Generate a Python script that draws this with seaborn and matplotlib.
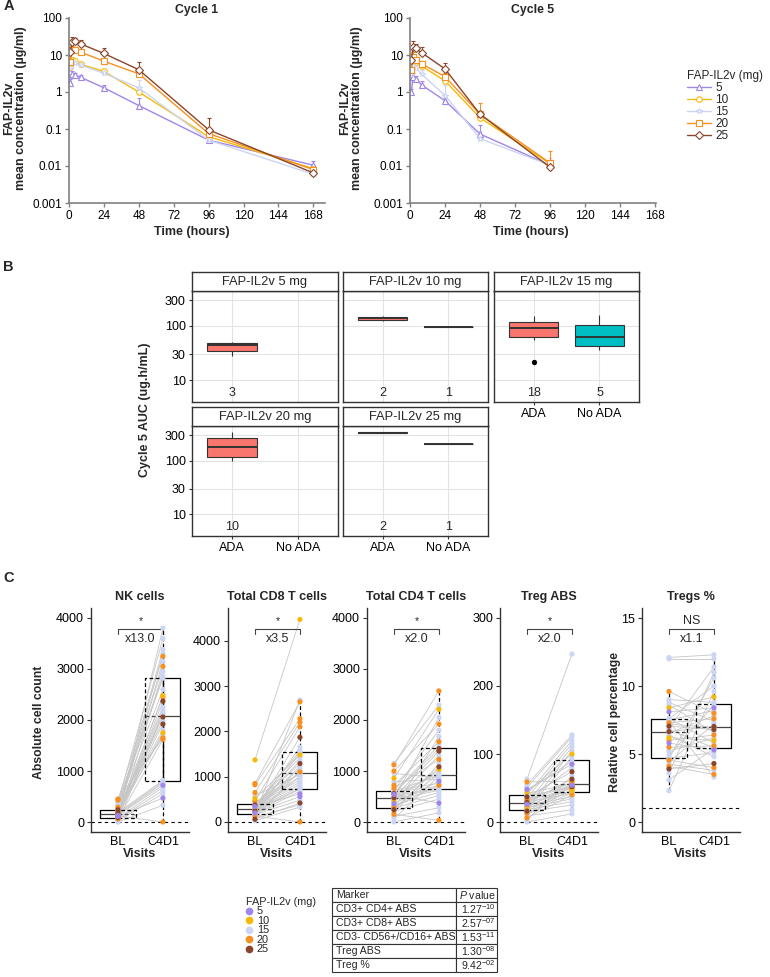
import numpy as np
import pandas as pd
import matplotlib
matplotlib.use("Agg")
import matplotlib.pyplot as plt
from matplotlib import cbook
from matplotlib.lines import Line2D
from matplotlib.ticker import NullLocator
import seaborn as sns

# ---------------- data ----------------
doses = [5, 10, 15, 20, 25]
dose_colors = ["#9f86ea", "#f6b90a", "#ccd5f4", "#f7901e", "#8b452a"]
dose_markers = ["^", "o", "*", "s", "D"]

# panel A: mean concentration (ug/ml) and top of the error bar; one row per dose
c1_time = [1, 2, 4, 8, 24, 48, 96, 168]
c1_mean = [
    [1.8, 3.1, 2.9, 2.5, 1.3, 0.43, 0.05, 0.0105],
    [4.6, 7.5, 6.8, 5.6, 3.6, 1.0, 0.062, 0.0085],
    [4.5, 6.5, 6.2, 5.3, 3.2, 1.3, 0.05, 0.006],
    [6.5, 14, 14, 12, 6.8, 3.1, 0.075, 0.008],
    [12, 22, 24, 20, 11, 4.0, 0.095, 0.0065],
]
c1_upper = [
    [2.3, 3.6, 3.3, 2.8, 1.5, 0.7, 0.055, 0.014],
    [5.5, 9, 8, 6.5, 4.2, 1.2, 0.07, 0.01],
    [6, 8, 7.5, 6.5, 4, 2.1, 0.055, 0.007],
    [8, 17, 16, 14, 8.0, 3.6, 0.09, 0.009],
    [16, 30, 28, 25, 15, 6.5, 0.2, 0.0075],
]
c5_time = [1, 2, 4, 8, 24, 48, 96]
c5_mean = [
    [1.0, 2.6, 2.3, 1.55, 0.58, 0.073, 0.0105],
    [3.5, 6.5, 6.3, 5.0, 2.0, 0.2, 0.0115],
    [3.0, 5.0, 4.5, 3.0, 0.8, 0.055, 0.0105],
    [4.0, 9.0, 7.2, 5.8, 2.6, 0.25, 0.012],
    [7.5, 16, 15, 11.5, 4.2, 0.25, 0.0092],
]
c5_upper = [
    [1.2, 3.2, 2.7, 2.0, 0.7, 0.13, 0.012],
    [4.2, 8, 7, 6, 2.5, 0.25, 0.014],
    [3.8, 6, 5.5, 4, 1.5, 0.09, 0.016],
    [5, 12, 9, 7, 3.2, 0.5, 0.025],
    [10, 24, 20, 16, 6, 0.3, 0.011],
]

# panel B: cycle 5 AUC (ug.h/mL) by ADA status
b_titles = ["FAP-IL2v 5 mg", "FAP-IL2v 10 mg", "FAP-IL2v 15 mg", "FAP-IL2v 20 mg", "FAP-IL2v 25 mg"]
b_groups = ["ADA", "No ADA"]
b_fill = ["#f8766d", "#00bfc4"]
b_ada = [
    [27.8, 44, 51.6],
    [125, 153],
    [21.3, 55, 58, 62, 63.5, 65, 75, 85, 91, 95, 100, 108, 115, 118, 125, 135, 145, 153],
    [97.5, 105, 115, 125, 170, 186, 250, 270, 310, 345],
    [322, 345],
]
b_noada = [[], [97], [36, 42.6, 63, 104, 158], [], [206]]

# panel C: per-patient values at BL and C4D1
patient_dose = [20] * 6 + [10] * 2 + [25] * 3 + [5] * 2 + [15] * 23
nk_bl = [430, 450, 120, 60, 205, 290, 150, 95, 175, 240, 86, 110, 130, 0, 5, 20, 35, 50, 70, 78, 82,
         140, 158, 162, 166, 185, 195, 215, 225, 235, 252, 270, 310, 340, 370, 400]
nk_c4 = [3250, 1650, 0, 1620, 2450, 3050, 1750, 2480, 1920, 2060, 2370, 470, 720, 330, 2112, 560, 2950,
         620, 3800, 680, 2150, 760, 3150, 790, 2200, 815, 3300, 1700, 2250, 1800, 3380, 1980, 2600, 2820, 3600, 2856]
cd8_bl = [850, 820, 650, 470, 290, 130, 1370, 520, 60, 245, 375, 200, 340, 30, 90, 110, 150, 165, 175,
          182, 185, 215, 230, 258, 270, 280, 300, 310, 320, 330, 352, 365, 386, 402, 430, 580]
cd8_c4 = [2650, 2280, 2200, 2100, 1105, 0, 4470, 1480, 420, 1870, 1290, 560, 620, 330, 1130, 380, 1540,
          480, 2690, 680, 1020, 730, 1230, 740, 1650, 780, 1350, 830, 1180, 880, 1568, 930, 1420, 980, 1075, 1050]
cd4_bl = [1120, 1000, 720, 660, 300, 150, 860, 415, 475, 240, 560, 360, 540, 0, 60, 110, 180, 210, 260,
          275, 282, 330, 390, 440, 460, 485, 500, 520, 575, 590, 600, 612, 624, 790, 950, 1150]
cd4_c4 = [2570, 1921, 1574, 1226, 721, 33, 2210, 1030, 1390, 1082, 1440, 800, 370, 180, 900, 280, 1140,
          450, 1680, 520, 942, 580, 1300, 620, 2050, 645, 980, 660, 1504, 700, 920, 760, 1800, 840, 870, 2295]
treg_bl = [59, 33, 30.5, 23.5, 13, 6, 44, 20, 28.6, 37, 16, 26, 48, 0, 3, 9, 11, 15, 17.5, 18.2, 19, 21,
           22, 25, 27.4, 29.5, 31.5, 34, 35.5, 38.6, 40.2, 42, 46, 51, 55, 63]
treg_c4 = [60, 58, 55.3, 50, 48, 40, 100, 46, 63, 74, 52, 54, 85, 12, 68, 18, 43.5, 25, 95.5, 30, 105,
           34, 53, 37, 110, 42, 80, 44.2, 115, 51, 120, 56.7, 89.5, 125, 128, 247]
tpct_bl = [9.6, 4.55, 4.1, 6.0, 7.3, 5.5, 8.4, 6.2, 6.65, 3.9, 7.05, 5.8, 8.1, 2.3, 3.1, 3.6, 4.25, 4.4,
           4.68, 4.70, 4.9, 5.2, 6.4, 6.55, 6.8, 6.9, 7.2, 7.4, 7.5, 7.6, 7.62, 8.6, 8.8, 9.0, 12.0, 12.1]
tpct_c4 = [8.0, 4.0, 3.5, 6.4, 7.6, 5.6, 9.2, 6.0, 7.03, 4.3, 6.8, 5.3, 8.4, 9.6, 5.4, 11.0, 3.8, 7.2,
           10.6, 5.1, 8.6, 6.2, 4.8, 7.8, 5.45, 11.4, 6.95, 3.3, 8.2, 10.0, 5.8, 6.6, 7.4, 8.8, 12.0, 12.3]
c_titles = ["NK cells", "Total CD8 T cells", "Total CD4 T cells", "Treg ABS", "Tregs %"]
c_fold = ["x13.0", "x3.5", "x2.0", "x2.0", "x1.1"]
c_sig = ["*", "*", "*", "*", "NS"]
c_ref = [0, 0, 0, 0, 1]
c_yticks = [[0, 1000, 2000, 3000, 4000], [0, 1000, 2000, 3000, 4000], [0, 1000, 2000, 3000, 4000],
            [0, 100, 200, 300], [0, 5, 10, 15]]
c_ylim = [(-196, 4196), (-221, 4722), (-196, 4196), (-14.7, 314.7), (-0.735, 15.74)]
visit_labels = ["BL", "C4D1"]

tab_markers = ["CD3+ CD4+ ABS", "CD3+ CD8+ ABS", "CD3- CD56+/CD16+ ABS", "Treg ABS", "Treg %"]
tab_pvals = [r"1.27$^{-10}$", r"2.57$^{-07}$", r"1.53$^{-11}$", r"1.30$^{-08}$", r"9.42$^{-02}$"]

# ---------------- style ----------------
sns.set_theme(style="ticks")
plt.rcParams["font.family"] = ["Liberation Sans", "DejaVu Sans"]
plt.rcParams["font.size"] = 8.5
plt.rcParams["mathtext.fontset"] = "custom"
plt.rcParams["mathtext.rm"] = "Liberation Sans"
plt.rcParams["mathtext.it"] = "Liberation Sans:italic"
plt.rcParams["mathtext.bf"] = "Liberation Sans:bold"

W, H = 770, 977
fig = plt.figure(figsize=(W / 100, H / 100), dpi=100)
pal = dict(zip(doses, dose_colors))
mk = dict(zip(doses, dose_markers))


def px_box(l, t, r, b):
    return [l / W, 1 - b / H, (r - l) / W, (b - t) / H]


def fig_text(x, y, s, **kw):
    fig.text(x / W, 1 - y / H, s, **kw)


# ---------------- panel A ----------------
def pk_panel(box, times, means, uppers, title, xmax):
    ax = fig.add_axes(px_box(*box))
    ax.set_yscale("log")
    df = pd.DataFrame([(d, t, v) for d, row in zip(doses, means) for t, v in zip(times, row)],
                      columns=["dose", "time", "conc"])
    sns.lineplot(data=df, x="time", y="conc", hue="dose", style="dose", palette=pal, markers=mk,
                 dashes=False, estimator=None, linewidth=1.0, markersize=4, legend=False, ax=ax, zorder=2)
    for ln in ax.lines:
        ln.set_markerfacecolor("white")
        ln.set_markeredgecolor(ln.get_color())
        ln.set_markeredgewidth(0.8)
    for c, row, up in zip(dose_colors, means, uppers):
        hi = np.array(up) - np.array(row)
        ax.errorbar(times, row, yerr=[np.zeros(len(row)), hi], fmt="none", ecolor=c,
                    elinewidth=0.8, capsize=1.5, capthick=0.8, zorder=1)
    ax.set_xlim(0, xmax)
    ax.set_ylim(0.001, 100)
    ax.set_xticks(range(0, 169, 24))
    ax.set_yticks([0.001, 0.01, 0.1, 1, 10, 100])
    ax.set_yticklabels(["0.001", "0.01", "0.1", "1", "10", "100"])
    ax.yaxis.set_minor_locator(NullLocator())
    ax.set_xlabel("")
    ax.set_ylabel("")
    for s in ["top", "right"]:
        ax.spines[s].set_visible(False)
    for s in ["left", "bottom"]:
        ax.spines[s].set_color("#808080")
        ax.spines[s].set_linewidth(1.2)
    ax.tick_params(colors="#808080", labelcolor="black", length=3, width=1, labelsize=8.5, pad=2)
    ax.set_title(title, fontweight="bold", fontsize=8.8, pad=3.5)
    return ax


pk_panel((69, 18, 325, 203), c1_time, c1_mean, c1_upper, "Cycle 1", 176)
pk_panel((410, 18, 656, 203), c5_time, c5_mean, c5_upper, "Cycle 5", 168.5)
for x in (15, 351):
    fig_text(x, 108, "FAP-IL2v\nmean concentration (µg/ml)", rotation=90, fontweight="bold",
             fontsize=9, ha="center", va="center", multialignment="center", linespacing=1.0)
fig_text(192, 232, "Time (hours)", fontweight="bold", fontsize=9, ha="center", va="center")
fig_text(531, 232, "Time (hours)", fontweight="bold", fontsize=9, ha="center", va="center")

a_handles = [Line2D([], [], color=c, marker=m, mfc="white", mec=c, mew=0.8, lw=1, ms=4)
             for c, m in zip(dose_colors, dose_markers)]
lg = fig.legend(a_handles, [str(d) for d in doses], title="FAP-IL2v (mg)", loc="upper left",
                bbox_to_anchor=(687 / W, 1 - 70 / H), frameon=False, fontsize=8.5, title_fontsize=8.5,
                handlelength=2.0, handletextpad=0.4, labelspacing=0.0, borderpad=0, borderaxespad=0)
lg._legend_box.align = "left"

# ---------------- panel B ----------------
b_cols = [(192, 338), (343, 488), (494, 639)]
b_rows = [(272, 291, 402), (407, 426, 536)]
for i, (title, ada, noada) in enumerate(zip(b_titles, b_ada, b_noada)):
    row, col = divmod(i, 3)
    l, r = b_cols[col]
    ts, tp, bp = b_rows[row]
    ax = fig.add_axes(px_box(l, tp, r, bp))
    df = pd.DataFrame({"grp": ["ADA"] * len(ada) + ["No ADA"] * len(noada), "auc": ada + noada})
    sns.boxplot(data=df, x="grp", y="auc", hue="grp", order=b_groups, hue_order=b_groups,
                palette=dict(zip(b_groups, b_fill)), saturation=1, width=0.75, log_scale=True,
                linecolor="#333333", linewidth=0.8, whis=1.5, showcaps=False,
                flierprops=dict(marker="o", markersize=2.8, markerfacecolor="black", markeredgecolor="black"),
                medianprops=dict(linewidth=1.4), legend=False, ax=ax)
    for j, vals in enumerate([ada, noada]):
        if vals:
            ax.text(j, 5.8, str(len(vals)), ha="center", va="center", fontsize=9)
    ax.set_xlim(-0.6, 1.6)
    ax.set_ylim(3.92, 444)
    ax.set_yticks([10, 30, 100, 300])
    ax.set_yticklabels(["10", "30", "100", "300"])
    ax.yaxis.set_minor_locator(NullLocator())
    ax.set_xlabel("")
    ax.set_ylabel("")
    ax.grid(True, color="#e3e3e3", linewidth=0.8)
    ax.set_axisbelow(True)
    for s in ax.spines.values():
        s.set_color("#333333")
        s.set_linewidth(1.0)
    ax.tick_params(colors="#333333", labelcolor="black", length=2.5, width=0.8, labelsize=9, pad=2)
    if col != 0:
        ax.tick_params(axis="y", labelleft=False, length=0)
    if not (row == 1 or col == 2):
        ax.tick_params(axis="x", labelbottom=False, length=0)
    sax = fig.add_axes(px_box(l, ts, r, tp))
    sax.set_xticks([])
    sax.set_yticks([])
    sax.set_facecolor("white")
    for s in sax.spines.values():
        s.set_color("#333333")
        s.set_linewidth(1.0)
    sax.text(0.5, 0.48, title, ha="center", va="center", fontsize=9.3, transform=sax.transAxes)
fig_text(145, 410, "Cycle 5 AUC (ug.h/mL)", rotation=90, fontweight="bold", fontsize=9,
         ha="center", va="center")

# ---------------- panel C ----------------
c_bl = [nk_bl, cd8_bl, cd4_bl, treg_bl, tpct_bl]
c_c4 = [nk_c4, cd8_c4, cd4_c4, treg_c4, tpct_c4]
c_left = [91, 228, 367, 500, 642]
bw = 0.78
dash = (0, (3, 2))
n = len(patient_dose)
for k in range(5):
    bl, c4 = c_bl[k], c_c4[k]
    ax = fig.add_axes(px_box(c_left[k], 608, c_left[k] + 98, 832))
    df = pd.DataFrame({"patient": list(range(n)) * 2, "visit": [0] * n + [1] * n,
                       "value": bl + c4, "dose": patient_dose * 2})
    ax.axhline(c_ref[k], color="black", linewidth=0.8, linestyle=(0, (3, 3)), zorder=1)
    sns.lineplot(data=df, x="visit", y="value", units="patient", estimator=None, color="#c6c6c6",
                 linewidth=0.6, legend=False, ax=ax, zorder=2)
    for x, vals, side in [(0, bl, -1), (1, c4, 1)]:
        st = cbook.boxplot_stats(np.asarray(vals, float), whis=1.5)
        for pos, ls in [(x + side * bw / 4, "-"), (x - side * bw / 4, dash)]:
            ax.bxp(st, positions=[pos], widths=[bw / 2], showcaps=False, showfliers=False,
                   manage_ticks=False,
                   boxprops=dict(color="black", linewidth=0.9, linestyle=ls),
                   medianprops=dict(color="#444444", linewidth=0.9, linestyle=ls),
                   whiskerprops=dict(linewidth=0), zorder=3)
        ax.vlines(x, st[0]["whislo"], st[0]["whishi"], colors="black", linewidth=0.9,
                  linestyles=dash, zorder=3)
    pts = pd.concat([df[df["dose"] == 15], df[df["dose"] != 15]])
    sns.scatterplot(data=pts, x="visit", y="value", hue="dose", palette=pal, s=14, linewidth=0,
                    legend=False, ax=ax, zorder=4)
    ax.set_xlim(-0.6, 1.58)
    ax.set_ylim(*c_ylim[k])
    ax.set_yticks(c_yticks[k])
    ax.set_xticks([0, 1])
    ax.set_xticklabels(visit_labels)
    ax.set_ylabel("")
    ax.set_xlabel("Visits", fontweight="bold", fontsize=9, labelpad=0)
    for s in ["top", "right"]:
        ax.spines[s].set_visible(False)
    for s in ["left", "bottom"]:
        ax.spines[s].set_color("#333333")
        ax.spines[s].set_linewidth(1.0)
    ax.tick_params(colors="#333333", labelcolor="black", length=3, width=0.8, labelsize=9, pad=2)
    ax.tick_params(axis="x", length=0, pad=3)
    ax.set_title(c_titles[k], fontweight="bold", fontsize=9, pad=6)
    tr = ax.get_xaxis_transform()
    ax.plot([0, 0, 1, 1], [0.885, 0.905, 0.905, 0.885], transform=tr, color="#444444",
            linewidth=0.8, clip_on=False)
    ax.text(0.5, 0.942, c_sig[k], transform=tr, ha="center", va="center",
            fontsize=9 if c_sig[k] == "NS" else 7.5)
    ax.text(0.5, 0.862, c_fold[k], transform=tr, ha="center", va="center", fontsize=9)
fig_text(39, 722, "Absolute cell count", rotation=90, fontweight="bold", fontsize=8.8, ha="center", va="center")
fig_text(615, 722, "Relative cell percentage", rotation=90, fontweight="bold", fontsize=8.8,
         ha="center", va="center")

c_handles = [Line2D([], [], ls="none", marker="o", ms=4.5, mfc=c, mec=c) for c in dose_colors]
lg2 = fig.legend(c_handles, [str(d) for d in doses], title="FAP-IL2v (mg)", loc="upper left",
                 bbox_to_anchor=(246 / W, 1 - 897 / H), frameon=False, fontsize=7.8, title_fontsize=7.8,
                 handlelength=0.6, handletextpad=0.4, labelspacing=-0.05, borderpad=0, borderaxespad=0)
lg2._legend_box.align = "left"

tab_ax = fig.add_axes(px_box(332, 888, 497, 972))
tab_ax.axis("off")
cell_text = [["Marker", "$P$ value"]] + [[m, p] for m, p in zip(tab_markers, tab_pvals)]
tbl = tab_ax.table(cellText=cell_text, cellLoc="left", colWidths=[124 / 165, 41 / 165], bbox=[0, 0, 1, 1])
tbl.auto_set_font_size(False)
tbl.set_fontsize(7.6)
for (r, c), cell in tbl.get_celld().items():
    cell.set_edgecolor("#333333")
    cell.set_linewidth(0.8)
    cell.PAD = 0.03
    if c == 1:
        cell._loc = "right"
        cell.get_text().set_horizontalalignment("right")

fig_text(4, 6, "A", fontweight="bold", fontsize=10.5, ha="left", va="center")
fig_text(3, 267, "B", fontweight="bold", fontsize=10.5, ha="left", va="center")
fig_text(3, 578, "C", fontweight="bold", fontsize=10.5, ha="left", va="center")

fig.savefig("out.png", dpi=100)
